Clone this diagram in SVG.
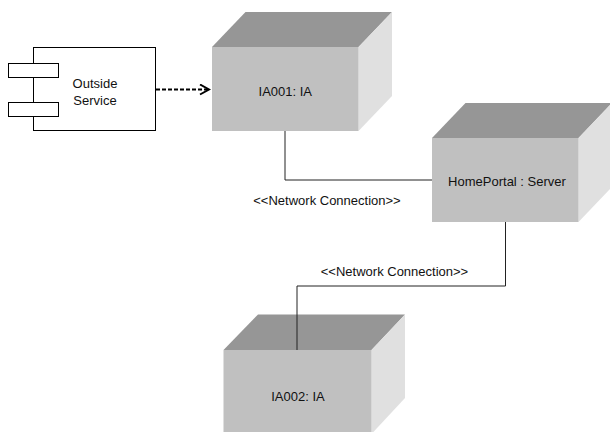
<svg xmlns="http://www.w3.org/2000/svg" width="610" height="432" viewBox="0 0 610 432">
<style>
.front{fill:#c0c0c0}
.top{fill:#969696}
.side{fill:#e0e0e0}
.lbl{font-family:"Liberation Sans",Arial,sans-serif;font-size:13px;fill:#111;text-anchor:middle;dominant-baseline:central}
.conn{fill:none;stroke:#222;stroke-width:1}
.comp{fill:#fff;stroke:#000;stroke-width:1}
</style>
<defs>
<marker id="open" markerWidth="12" markerHeight="12" refX="10" refY="6" orient="auto" markerUnits="userSpaceOnUse">
<path d="M1,1 L10,6 L1,11" fill="none" stroke="#000" stroke-width="2"/>
</marker>
</defs>
<rect width="610" height="432" fill="#fff"/>
<g id="connectors">
<path class="conn" d="M285,131 V180 H432"/>
<path class="conn" d="M505.5,222 V286 H297 V351"/>
<path d="M156,89.5 H209" fill="none" stroke="#000" stroke-width="2" stroke-dasharray="4,2" marker-end="url(#open)"/>
<text class="lbl" x="327" y="200">&lt;&lt;Network Connection&gt;&gt;</text>
<text class="lbl" x="394.5" y="271">&lt;&lt;Network Connection&gt;&gt;</text>
</g>
<g id="outside-service">
<rect class="comp" x="33.5" y="47.5" width="122" height="83"/>
<rect class="comp" x="8.5" y="63.5" width="50" height="14"/>
<rect class="comp" x="8.5" y="102.5" width="50" height="14"/>
<text class="lbl" x="95" y="83">Outside</text>
<text class="lbl" x="95" y="100">Service</text>
</g>
<g id="ia001">
<polygon class="top" points="212,47 245.5,12 392,12 358.5,47"/>
<polygon class="side" points="358.5,47 392,12 392,96 358.5,131"/>
<rect class="front" x="212" y="47" width="146.5" height="84"/>
<text class="lbl" x="285.3" y="91">IA001: IA</text>
</g>
<g id="homeportal">
<polygon class="top" points="432,138 465.5,103 612,103 578.5,138"/>
<polygon class="side" points="578.5,138 612,103 612,187 578.5,222"/>
<rect class="front" x="432" y="138" width="146.5" height="84"/>
<text class="lbl" x="507" y="181.5">HomePortal : Server</text>
</g>
<g id="ia002">
<polygon class="top" points="223.5,350 258,314.5 405,314.5 371.5,350"/>
<polygon class="side" points="371.5,350 405,314.5 405,398 371.5,434"/>
<rect class="front" x="223.5" y="350" width="148" height="84"/>
<path class="conn" d="M297,314.5 V350"/>
<text class="lbl" x="298" y="396">IA002: IA</text>
</g>
</svg>
